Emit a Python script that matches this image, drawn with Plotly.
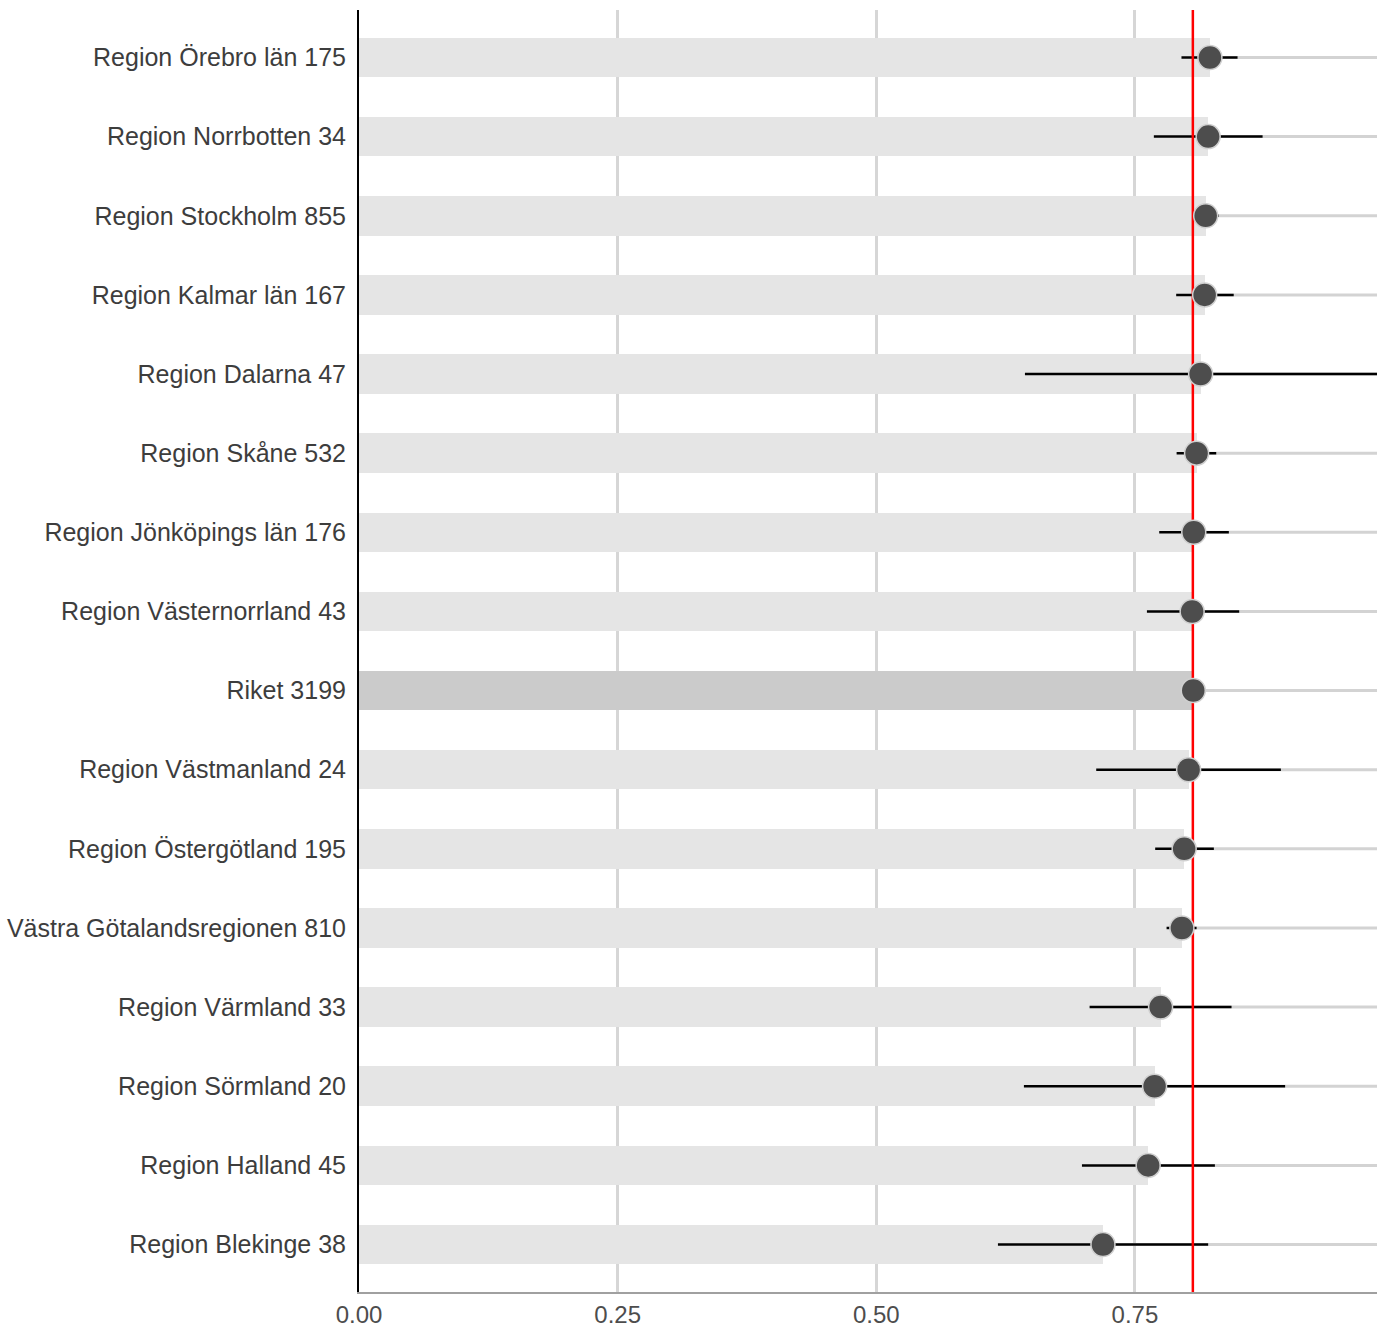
import plotly.graph_objects as go

# Regions (top to bottom) with case counts, share and 95% interval
regions = [
    "Region Örebro län 175",
    "Region Norrbotten 34",
    "Region Stockholm 855",
    "Region Kalmar län 167",
    "Region Dalarna 47",
    "Region Skåne 532",
    "Region Jönköpings län 176",
    "Region Västernorrland 43",
    "Riket 3199",
    "Region Västmanland 24",
    "Region Östergötland 195",
    "Västra Götalandsregionen 810",
    "Region Värmland 33",
    "Region Sörmland 20",
    "Region Halland 45",
    "Region Blekinge 38",
]
share = [0.8225, 0.8208, 0.8184, 0.8174, 0.8135, 0.8096, 0.8069, 0.8053,
         0.8064, 0.8019, 0.7976, 0.7954, 0.7748, 0.7690, 0.7628, 0.7191]
ci_low = [0.7950, 0.7683, 0.8058, 0.7899, 0.6437, 0.7903, 0.7735, 0.7616,
          None, 0.7126, 0.7696, 0.7806, 0.7062, 0.6427, 0.6988, 0.6176]
ci_high = [0.8492, 0.8734, 0.8309, 0.8455, 0.9950, 0.8286, 0.8408, 0.8508,
           None, 0.8911, 0.8263, 0.8096, 0.8434, 0.8952, 0.8273, 0.8208]
national = 0.8060
x_ticks = [0.0, 0.25, 0.5, 0.75]
x_tick_labels = ["0.00", "0.25", "0.50", "0.75"]

ypos = list(range(len(regions)))
bar_colors = ["#cbcbcb" if r.startswith("Riket") else "#e5e5e5" for r in regions]

fig = go.Figure()

# background bars from 0 to share
fig.add_trace(go.Bar(
    x=share, y=ypos, orientation="h", width=0.5,
    marker=dict(color=bar_colors, line=dict(width=0)),
    hoverinfo="skip", showlegend=False,
))

# thin guide line from the share to the right edge
gx, gy = [], []
for v, y in zip(share, ypos):
    gx += [v, 1.0, None]
    gy += [y, y, None]
fig.add_trace(go.Scatter(
    x=gx, y=gy, mode="lines", line=dict(color="#d3d3d3", width=3),
    hoverinfo="skip", showlegend=False,
))

# confidence intervals
ex, ey = [], []
for lo, hi, y in zip(ci_low, ci_high, ypos):
    if lo is None:
        continue
    ex += [lo, hi, None]
    ey += [y, y, None]
fig.add_trace(go.Scatter(
    x=ex, y=ey, mode="lines", line=dict(color="black", width=2.5),
    hoverinfo="skip", showlegend=False,
))

# national reference line
fig.add_trace(go.Scatter(
    x=[national, national], y=[-0.6, len(regions) - 0.4], mode="lines",
    line=dict(color="#ff0000", width=2.5),
    hoverinfo="skip", showlegend=False,
))

# point estimates
fig.add_trace(go.Scatter(
    x=share, y=ypos, mode="markers",
    marker=dict(size=24, color="#4d4d4d", line=dict(color="#d0d0d0", width=1.5)),
    hoverinfo="skip", showlegend=False,
))

fig.update_layout(
    width=1385, height=1329,
    margin=dict(l=359, r=8, t=10, b=37),
    plot_bgcolor="white", paper_bgcolor="white",
    font=dict(family="Liberation Sans, Arial, sans-serif", size=25, color="#4d4d4d"),
    bargap=0,
)
fig.update_xaxes(
    range=[0, 0.984], tickvals=x_ticks, ticktext=x_tick_labels,
    showgrid=True, gridcolor="#d6d6d6", gridwidth=2.5,
    zeroline=False, showline=True, linecolor="#a0a0a0", linewidth=2,
    ticks="", ticklabelstandoff=0, automargin=False,
    tickfont=dict(size=24, color="#4d4d4d"),
)
fig.update_yaxes(
    range=[len(regions) - 0.4, -0.6], tickvals=ypos, ticktext=regions,
    showgrid=False, zeroline=False, showline=True, linecolor="black", linewidth=2,
    ticks="", ticklabelstandoff=6, automargin=False,
    tickfont=dict(size=25, color="#3d3d3d"),
)

fig.write_html("out.html")
